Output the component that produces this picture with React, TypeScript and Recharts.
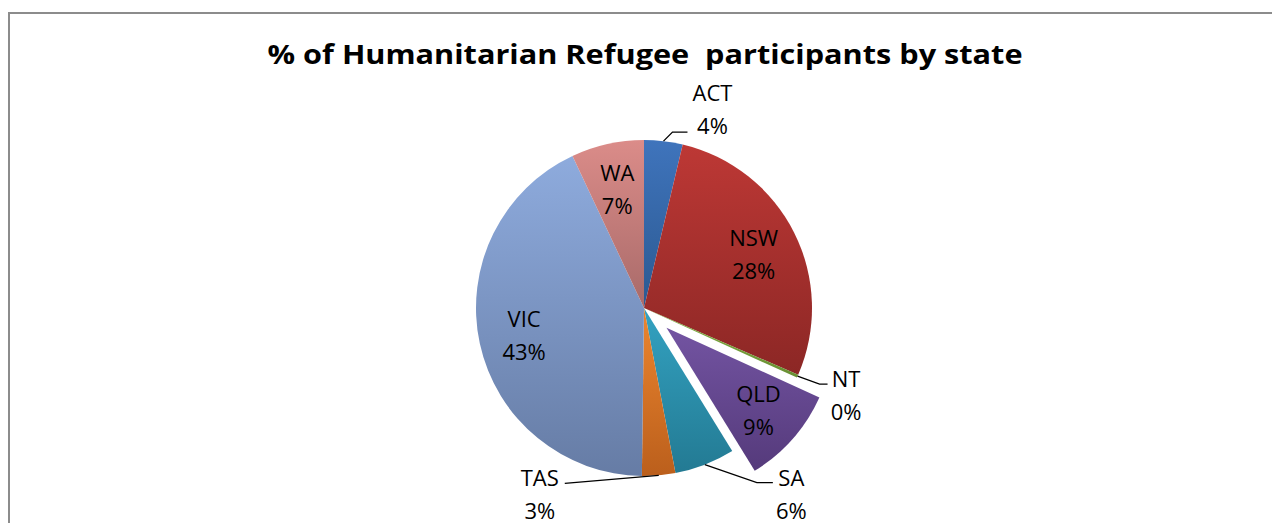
import React from "react";
import { PieChart, Pie, Cell } from "recharts";

// values (share of participants, %)
const states = ["ACT", "NSW", "NT", "QLD", "SA", "TAS", "VIC", "WA"];
const shares = [3.7, 27.8, 0.3, 9.4, 5.8, 3.2, 42.8, 7.0];
const exploded = "QLD";

const TITLE = "% of Humanitarian Refugee  participants by state";

// Excel-2007 style gradients (top -> bottom)
const gradients: Record<string, [string, string]> = {
  ACT: ["#3f74bc", "#2b5991"],
  NSW: ["#bd3835", "#8c2725"],
  NT: ["#84b044", "#688f33"],
  QLD: ["#7354a2", "#553a7b"],
  SA: ["#33a2c1", "#237a93"],
  TAS: ["#ec862f", "#bb5f1c"],
  VIC: ["#8eabdd", "#667ca5"],
  WA: ["#db8c89", "#a86a69"],
};

// leader line layout for the small slices (offset from the slice edge)
const leaders: Record<string, { dx: number; dy: number; run: number; above?: boolean }> = {
  ACT: { dx: 24, dy: -9, run: 15, above: true },
  NT: { dx: 30, dy: 8, run: 8 },
  SA: { dx: 68, dy: 18, run: 16 },
  TAS: { dx: -94, dy: 8, run: 0 },
};

const data = states.map((s, i) => ({ name: s, value: shares[i] }));
const total = shares.reduce((a, b) => a + b, 0);

const CX = 644;
const CY = 308;
const R = 168;
const EXPLODE = 30;

// where the exploded slice sits (clockwise from 12 o'clock)
const exIdx = states.indexOf(exploded);
const exBefore = shares.slice(0, exIdx).reduce((a, b) => a + b, 0);
const exMid = ((exBefore + shares[exIdx] / 2) / total) * 2 * Math.PI;
const exCx = CX + EXPLODE * Math.sin(exMid);
const exCy = CY - EXPLODE * Math.cos(exMid);

const FONT = "'Open Sans', 'DejaVu Sans', sans-serif";
const RAD = Math.PI / 180;

function renderLabel(props: any) {
  const { cx, cy, midAngle, outerRadius, index } = props;
  const name = states[index];
  const pct = `${Math.round((shares[index] / total) * 100)}%`;
  const off = name === exploded ? EXPLODE : 0;
  const cos = Math.cos(-midAngle * RAD);
  const sin = Math.sin(-midAngle * RAD);
  const ox = cx + off * cos;
  const oy = cy + off * sin;

  const spec = leaders[name];
  if (!spec) {
    const lx = ox + outerRadius * 0.73 * cos;
    const ly = oy + outerRadius * 0.73 * sin;
    return (
      <g key={`lbl-${name}`}>
        <text x={lx} y={ly - 16} textAnchor="middle" dominantBaseline="central" fontSize={22} fontFamily={FONT} fill="#000">
          {name}
        </text>
        <text x={lx} y={ly + 17} textAnchor="middle" dominantBaseline="central" fontSize={22} fontFamily={FONT} fill="#000">
          {pct}
        </text>
      </g>
    );
  }

  const sx = ox + outerRadius * cos;
  const sy = oy + outerRadius * sin;
  const ex = sx + spec.dx;
  const ey = sy + spec.dy;
  const side = spec.dx >= 0 ? 1 : -1;
  const bx = ex - side * spec.run;
  const w = Math.max(name.length * 14, pct.length * 14.5);
  const tx = ex + side * (4 + w / 2);
  const y1 = spec.above ? ey - 40 : ey - 6;
  const y2 = spec.above ? ey - 7 : ey + 27;
  return (
    <g key={`lbl-${name}`}>
      <polyline points={`${sx},${sy} ${bx},${ey} ${ex},${ey}`} fill="none" stroke="#000" strokeWidth={1.3} />
      <text x={tx} y={y1} textAnchor="middle" dominantBaseline="central" fontSize={22} fontFamily={FONT} fill="#000">
        {name}
      </text>
      <text x={tx} y={y2} textAnchor="middle" dominantBaseline="central" fontSize={22} fontFamily={FONT} fill="#000">
        {pct}
      </text>
    </g>
  );
}

export default function App() {
  return (
    <div
      style={{
        position: "absolute",
        left: 0,
        top: 0,
        width: 1272,
        height: 523,
        overflow: "hidden",
        background: "#fff",
      }}
    >
      {/* chart area frame */}
      <div
        style={{
          position: "absolute",
          left: 8,
          top: 12,
          width: 1300,
          height: 600,
          border: "2px solid #8c8c8c",
          boxSizing: "border-box",
        }}
      />
      <svg width={1272} height={100} style={{ position: "absolute", left: 0, top: 0 }}>
        <text
          x={645}
          y={64}
          textAnchor="middle"
          fontFamily={FONT}
          fontWeight={700}
          fontSize={26}
          textLength={755}
          lengthAdjust="spacingAndGlyphs"
          style={{ whiteSpace: "pre" }}
          fill="#000"
        >
          {TITLE}
        </text>
      </svg>
      <div style={{ position: "absolute", left: 0, top: 0 }}>
        <PieChart width={1272} height={523} margin={{ top: 0, right: 0, bottom: 0, left: 0 }}>
          <defs>
            {states.map((s) => (
              <linearGradient key={s} id={`grad-${s}`} x1="0" y1="0" x2="0" y2="1">
                <stop offset="0%" stopColor={gradients[s][0]} />
                <stop offset="100%" stopColor={gradients[s][1]} />
              </linearGradient>
            ))}
          </defs>
          <Pie
            data={data}
            dataKey="value"
            nameKey="name"
            cx={CX}
            cy={CY}
            outerRadius={R}
            startAngle={90}
            endAngle={-270}
            stroke="none"
            isAnimationActive={false}
            labelLine={false}
            label={renderLabel}
          >
            {data.map((d) => (
              <Cell key={d.name} fill={d.name === exploded ? "none" : `url(#grad-${d.name})`} stroke="none" />
            ))}
          </Pie>
          {/* exploded slice drawn from the same data, shifted outward */}
          <Pie
            data={data}
            dataKey="value"
            nameKey="name"
            cx={exCx}
            cy={exCy}
            outerRadius={R}
            startAngle={90}
            endAngle={-270}
            stroke="none"
            isAnimationActive={false}
            labelLine={false}
          >
            {data.map((d) => (
              <Cell key={d.name} fill={d.name === exploded ? `url(#grad-${d.name})` : "none"} stroke="none" />
            ))}
          </Pie>
        </PieChart>
      </div>
    </div>
  );
}
